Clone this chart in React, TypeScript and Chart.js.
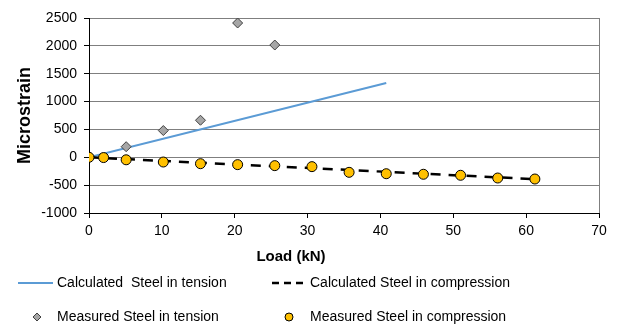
import React, { useEffect, useRef } from "react";
import { Chart, registerables } from "chart.js";

Chart.register(...registerables);

// ---- Data ----
const calcTensionLoad = [0, 40.8];
const calcTensionStrain = [0, 1335];
const calcCompLoad = [0, 61.2];
const calcCompStrain = [0, -392];
const measTensionLoad = [5.1, 10.2, 15.3, 20.4, 25.5];
const measTensionStrain = [190, 480, 665, 2410, 2015];
const measCompLoad = [0, 2, 5.1, 10.2, 15.3, 20.4, 25.5, 30.6, 35.7, 40.8, 45.9, 51, 56.1, 61.2];
const measCompStrain = [0, -5, -45, -85, -115, -132, -150, -168, -270, -295, -305, -323, -372, -390];
const xTicks = [0, 10, 20, 30, 40, 50, 60, 70];
const yTicks = [-1000, -500, 0, 500, 1000, 1500, 2000, 2500];

const seriesNames = [
  "Calculated  Steel in tension",
  "Calculated Steel in compression",
  "Measured Steel in tension",
  "Measured Steel in compression",
];
const xTitle = "Load (kN)";
const yTitle = "Microstrain";

const FONT = "'Liberation Sans', Arial, sans-serif";
const BLUE = "#5B9BD5";
const GREY_FILL = "#A6A6A6";
const GREY_EDGE = "#404040";
const YELLOW = "#FFC000";

const pts = (xs: number[], ys: number[]) => xs.map((x, i) => ({ x, y: ys[i] }));

const decorPlugin = {
  id: "decor",
  afterDraw(chart: any) {
    const { ctx, chartArea } = chart;
    ctx.save();
    // right border of plot area
    ctx.strokeStyle = "#7F7F7F";
    ctx.lineWidth = 1;
    ctx.beginPath();
    ctx.moveTo(chartArea.right + 0.5, chartArea.top);
    ctx.lineTo(chartArea.right + 0.5, chartArea.bottom);
    ctx.stroke();

    // x axis title
    ctx.fillStyle = "#000";
    ctx.font = `bold 15px ${FONT}`;
    ctx.textAlign = "center";
    ctx.textBaseline = "middle";
    ctx.fillText(xTitle, 291, 257);

    // legend
    ctx.font = `14px ${FONT}`;
    ctx.textAlign = "left";
    const row1 = 283;
    const row2 = 317;
    // calculated tension
    ctx.strokeStyle = BLUE;
    ctx.lineWidth = 2;
    ctx.beginPath();
    ctx.moveTo(18, row1);
    ctx.lineTo(53, row1);
    ctx.stroke();
    ctx.fillText(seriesNames[0], 57, row1);
    // calculated compression
    ctx.strokeStyle = "#000";
    ctx.lineWidth = 2.5;
    ctx.setLineDash([7, 5]);
    ctx.beginPath();
    ctx.moveTo(272, row1);
    ctx.lineTo(307, row1);
    ctx.stroke();
    ctx.setLineDash([]);
    ctx.fillText(seriesNames[1], 310, row1);
    // measured tension (diamond)
    ctx.fillStyle = GREY_FILL;
    ctx.strokeStyle = GREY_EDGE;
    ctx.lineWidth = 1;
    ctx.beginPath();
    ctx.moveTo(37, row2 - 4);
    ctx.lineTo(41, row2);
    ctx.lineTo(37, row2 + 4);
    ctx.lineTo(33, row2);
    ctx.closePath();
    ctx.fill();
    ctx.stroke();
    ctx.fillStyle = "#000";
    ctx.fillText(seriesNames[2], 57, row2);
    // measured compression (circle)
    ctx.fillStyle = YELLOW;
    ctx.strokeStyle = "#000";
    ctx.beginPath();
    ctx.arc(289, row2, 4, 0, Math.PI * 2);
    ctx.fill();
    ctx.stroke();
    ctx.fillStyle = "#000";
    ctx.fillText(seriesNames[3], 310, row2);
    ctx.restore();
  },
};

export default function App() {
  const ref = useRef<HTMLCanvasElement>(null);

  useEffect(() => {
    if (!ref.current) return;
    const chart = new Chart(ref.current, {
      type: "scatter",
      data: {
        datasets: [
          {
            label: seriesNames[3],
            data: pts(measCompLoad, measCompStrain),
            showLine: false,
            pointStyle: "circle",
            pointRadius: 5,
            pointBackgroundColor: YELLOW,
            pointBorderColor: "#000",
            pointBorderWidth: 1,
          },
          {
            label: seriesNames[2],
            data: pts(measTensionLoad, measTensionStrain),
            showLine: false,
            pointStyle: "rectRot",
            pointRadius: 5,
            pointBackgroundColor: GREY_FILL,
            pointBorderColor: GREY_EDGE,
            pointBorderWidth: 1,
          },
          {
            label: seriesNames[1],
            data: pts(calcCompLoad, calcCompStrain),
            showLine: true,
            borderColor: "#000",
            borderWidth: 2.5,
            borderDash: [10, 8],
            pointRadius: 0,
          },
          {
            label: seriesNames[0],
            data: pts(calcTensionLoad, calcTensionStrain),
            showLine: true,
            borderColor: BLUE,
            borderWidth: 2,
            pointRadius: 0,
          },
        ],
      },
      options: {
        animation: false,
        responsive: true,
        maintainAspectRatio: false,
        layout: { padding: { top: 18, right: 19, left: 0, bottom: 0 } },
        plugins: { legend: { display: false }, tooltip: { enabled: false } },
        scales: {
          x: {
            type: "linear",
            min: 0,
            max: 70,
            afterBuildTicks: (s: any) => {
              s.ticks = xTicks.map((v) => ({ value: v }));
            },
            afterFit: (s: any) => {
              s.height = 114;
            },
            ticks: {
              color: "#000",
              font: { family: FONT, size: 14 },
              padding: 5,
              maxRotation: 0,
              callback: (v: any) => String(v),
            },
            grid: { drawOnChartArea: false, drawTicks: true, tickLength: 5, tickColor: "#000" },
            border: { color: "#000", width: 1 },
          },
          y: {
            type: "linear",
            min: -1000,
            max: 2500,
            afterBuildTicks: (s: any) => {
              s.ticks = yTicks.map((v) => ({ value: v }));
            },
            afterFit: (s: any) => {
              s.width = 89;
            },
            ticks: {
              color: "#000",
              font: { family: FONT, size: 14 },
              padding: 7,
              callback: (v: any) => String(v),
            },
            grid: { color: "#7F7F7F", lineWidth: 1, tickLength: 5, tickColor: "#000" },
            border: { color: "#000", width: 1 },
            title: {
              display: true,
              text: yTitle,
              color: "#000",
              font: { family: FONT, size: 18, weight: "bold" },
              padding: { top: 14, bottom: 0 },
            },
          },
        },
      },
      plugins: [decorPlugin],
    });
    return () => chart.destroy();
  }, []);

  return (
    <div style={{ position: "absolute", left: 0, top: 0, width: 618, height: 327, background: "#fff" }}>
      <canvas ref={ref} />
    </div>
  );
}
